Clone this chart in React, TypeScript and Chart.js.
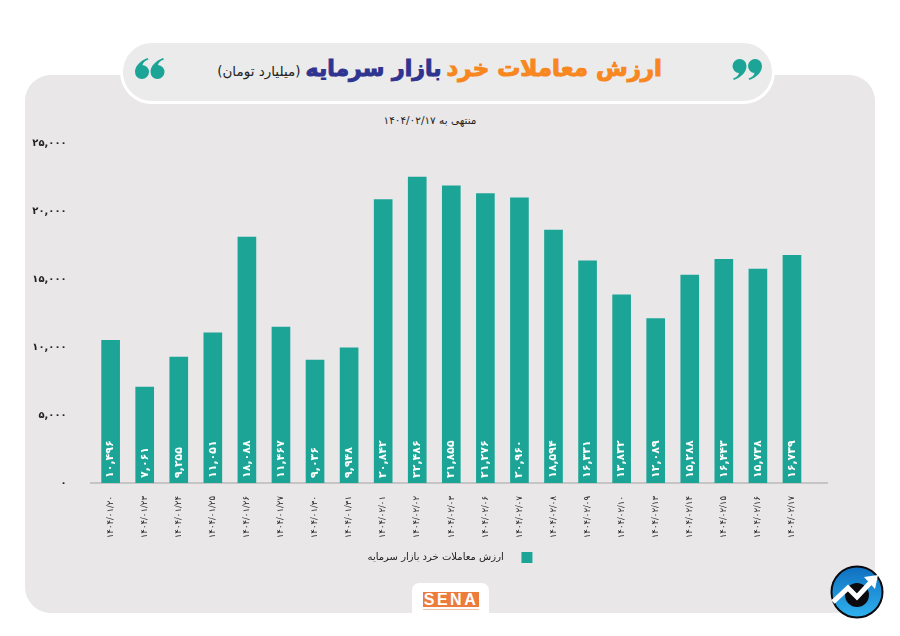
import React, { useEffect, useRef } from 'react';
import { Chart, registerables } from 'chart.js';

Chart.register(...registerables);

const dates = [
  '۱۴۰۴/۰۱/۲۰', '۱۴۰۴/۰۱/۲۳', '۱۴۰۴/۰۱/۲۴', '۱۴۰۴/۰۱/۲۵', '۱۴۰۴/۰۱/۲۶', '۱۴۰۴/۰۱/۲۷', '۱۴۰۴/۰۱/۳۰',
  '۱۴۰۴/۰۱/۳۱', '۱۴۰۴/۰۲/۰۱', '۱۴۰۴/۰۲/۰۲', '۱۴۰۴/۰۲/۰۳', '۱۴۰۴/۰۲/۰۶', '۱۴۰۴/۰۲/۰۷', '۱۴۰۴/۰۲/۰۸',
  '۱۴۰۴/۰۲/۰۹', '۱۴۰۴/۰۲/۱۰', '۱۴۰۴/۰۲/۱۳', '۱۴۰۴/۰۲/۱۴', '۱۴۰۴/۰۲/۱۵', '۱۴۰۴/۰۲/۱۶', '۱۴۰۴/۰۲/۱۷',
];
const tradeValues = [
  10496, 7061, 9255, 11051, 18088, 11467, 9036, 9948, 20842, 22486, 21855, 21276, 20960, 18594, 16331,
  13832, 12089, 15288, 16443, 15738, 16739,
];
const seriesName = 'ارزش معاملات خرد بازار سرمایه';

const FONT = '"DejaVu Sans", sans-serif';
const TEAL = '#1ca596';

// persian digits + comma separators
const toFa = (n: number) =>
  n.toString().replace(/\B(?=(\d{3})+$)/g, ',').replace(/\d/g, d => '۰۱۲۳۴۵۶۷۸۹'[Number(d)]);

const baseLine = {
  id: 'baseLine',
  beforeDatasetsDraw(chart: any) {
    const y = chart.scales.y.getPixelForValue(0);
    const ctx = chart.ctx;
    ctx.save();
    ctx.strokeStyle = '#a3a3a3';
    ctx.lineWidth = 1;
    ctx.beginPath();
    ctx.moveTo(90, y);
    ctx.lineTo(828, y);
    ctx.stroke();
    ctx.restore();
  },
};

const barLabels = {
  id: 'barLabels',
  afterDatasetsDraw(chart: any) {
    const ctx = chart.ctx;
    const y0 = chart.scales.y.getPixelForValue(0);
    chart.getDatasetMeta(0).data.forEach((bar: any, i: number) => {
      ctx.save();
      ctx.translate(bar.x, y0 - 5);
      ctx.rotate(-Math.PI / 2);
      ctx.fillStyle = '#ffffff';
      ctx.font = `bold 11px ${FONT}`;
      ctx.textAlign = 'left';
      ctx.textBaseline = 'middle';
      ctx.fillText(toFa(tradeValues[i]), 0, 0);
      ctx.restore();
    });
  },
};

// the "66" shape of the title's quote marks
const QUOTE_PATH = 'M12.5 0 C5 3 0 8 0 14 A7 7 0 1 0 7.5 7 C8 4.5 10 2.5 13.5 1.5 Z';

const Quote = ({ left, flip }: { left: number; flip?: boolean }) => (
  <svg width={30} height={22} viewBox="0 0 30 22" style={{ position: 'absolute', left, top: 58, transform: flip ? 'rotate(180deg)' : undefined }}>
    <path d={QUOTE_PATH} fill={TEAL} />
    <path d={QUOTE_PATH} fill={TEAL} transform="translate(15.5 0)" />
  </svg>
);

export default function App() {
  const canvasRef = useRef<HTMLCanvasElement | null>(null);

  useEffect(() => {
    if (!canvasRef.current) return;
    const chart = new Chart(canvasRef.current, {
      type: 'bar',
      data: {
        labels: dates,
        datasets: [{ label: '\u00a0\u00a0\u00a0\u00a0' + seriesName, data: tradeValues, backgroundColor: TEAL, barThickness: 18 }],
      },
      options: {
        responsive: false,
        animation: false,
        layout: { padding: { top: 143, right: 0, bottom: 63, left: 0 } },
        scales: {
          x: {
            grid: { display: false },
            border: { display: false },
            afterFit: (s: any) => { s.height = 59; },
            ticks: { autoSkip: false, minRotation: 90, maxRotation: 90, padding: 5, color: '#222', font: { family: FONT, size: 8.5 } },
          },
          y: {
            min: 0,
            max: 25000,
            grid: { display: false },
            border: { display: false },
            afterFit: (s: any) => { s.width = 93.6; },
            ticks: {
              stepSize: 5000,
              padding: 19,
              color: '#222',
              font: { family: FONT, size: 10, weight: 'bold' },
              callback: (v: any) => toFa(Number(v)),
            },
          },
          // empty axis, only keeps the plot clear of the right side so the legend stays centred on the page
          spacer: {
            position: 'right',
            grid: { display: false },
            border: { display: false },
            ticks: { display: false },
            afterFit: (s: any) => { s.width = 91; },
          },
        },
        plugins: {
          tooltip: { enabled: false },
          legend: {
            position: 'bottom',
            rtl: true,
            textDirection: 'rtl',
            labels: { boxWidth: 11, boxHeight: 11, padding: 10, color: '#222', font: { family: FONT, size: 10 } },
          },
        },
      },
      plugins: [baseLine, barLabels],
    });
    return () => chart.destroy();
  }, []);

  return (
    <div style={{ position: 'absolute', left: 0, top: 0, width: 900, height: 636, background: '#fff', overflow: 'hidden', fontFamily: FONT }}>
      <div style={{ position: 'absolute', left: 25, top: 75, width: 850, height: 538, borderRadius: 26, background: '#e9e7e8' }} />
      <div style={{ position: 'absolute', left: 120, top: 40, width: 649, height: 58, borderRadius: 32, background: '#ebebeb', border: '3px solid #fff' }} />
      <div dir="rtl" style={{ position: 'absolute', right: 238, top: 50, height: 36, lineHeight: '36px', whiteSpace: 'nowrap' }}>
        <span style={{ color: '#f7871e', fontWeight: 'bold', fontSize: 23, WebkitTextStroke: '1px #f7871e' }}>ارزش معاملات خرد</span>{' '}
        <span style={{ color: '#2f3490', fontWeight: 'bold', fontSize: 22, WebkitTextStroke: '1px #2f3490' }}>بازار سرمایه</span>{' '}
        <span style={{ color: '#222', fontSize: 13.5 }}>(میلیارد تومان)</span>
      </div>
      <Quote left={135} />
      <Quote left={732} flip />
      <div dir="rtl" style={{ position: 'absolute', left: 330, width: 200, top: 114, textAlign: 'center', fontSize: 10.5, color: '#222' }}>منتهی به ۱۴۰۴/۰۲/۱۷</div>
      <canvas ref={canvasRef} width={900} height={636} style={{ position: 'absolute', left: 0, top: 0 }} />
      <div style={{ position: 'absolute', left: 412, top: 583, width: 77, height: 30, borderRadius: '7px 7px 0 0', background: '#fff' }}>
        <div style={{ margin: '9px 0 0 11px', width: 56, height: 15, background: '#ec7b3c', color: '#fff', fontFamily: '"Liberation Sans", sans-serif', fontWeight: 'bold', fontSize: 16, lineHeight: '15px', textAlign: 'center', letterSpacing: 2.5 }}>SENA</div>
        <div style={{ margin: '2px 0 0 11px', width: 56, height: 1, background: '#edc4ae' }} />
      </div>
      <svg width={56} height={56} viewBox="0 0 56 56" style={{ position: 'absolute', left: 829, top: 564 }}>
        <defs>
          <linearGradient id="logo" x1="0" y1="0" x2="0" y2="1">
            <stop offset="0" stopColor="#0f6fc0" />
            <stop offset="1" stopColor="#2fb2ee" />
          </linearGradient>
        </defs>
        <circle cx={28} cy={28} r={25.5} fill="url(#logo)" stroke="#0b0b0f" strokeWidth={2} />
        <circle cx={28} cy={31} r={12} fill="#0b0b0f" />
        <path d="M4 38 L19 24 L28 33 L42 18" fill="none" stroke="#fff" strokeWidth={5} />
        <path d="M35 13 L49 11 L46 25 Z" fill="#fff" />
      </svg>
    </div>
  );
}
